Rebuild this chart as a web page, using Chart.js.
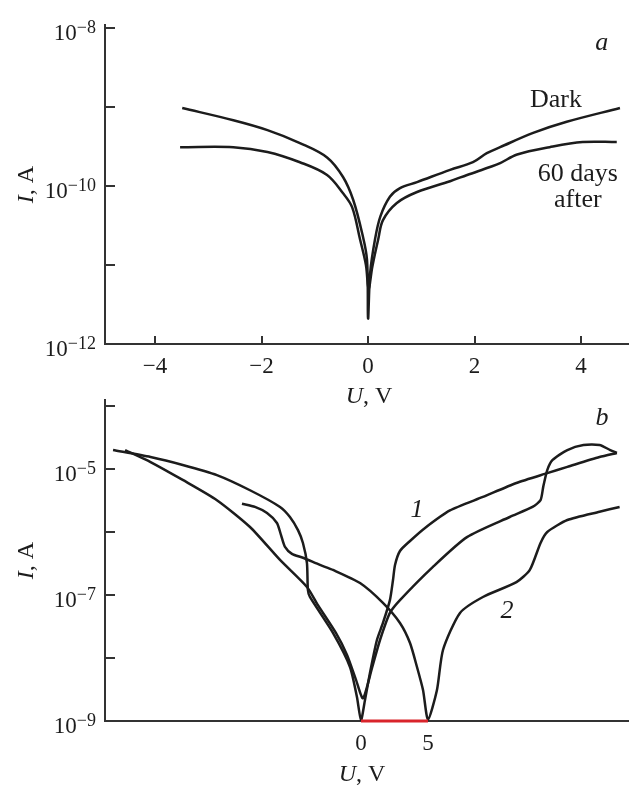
<!DOCTYPE html>
<html>
<head>
<meta charset="UTF-8">
<title>I-U curves</title>
<script src="https://cdn.jsdelivr.net/npm/chart.js"></script>
<style>
  html, body { margin: 0; padding: 0; background: #fff; overflow: hidden; }
  canvas { display: block; position: absolute; left: 0; }
  #chartA { top: 0; }
  #chartB { top: 390px; }
</style>
</head>
<body>
<canvas id="chartA" width="629" height="412"></canvas>
<canvas id="chartB" width="629" height="395"></canvas>
<script>
// ---- panel a: dark current, fresh and after 60 days ----
const darkU = [-3.49, -2.53, -1.89, -1.28, -0.77, -0.47, -0.28, -0.11, -0.02, 0, 0.04, 0.13, 0.23, 0.41, 0.60, 0.92, 1.54, 1.97, 2.23, 2.48, 3.10, 3.73, 4.73];
const darkI = [9.7e-10, 6.8e-10, 5.1e-10, 3.5e-10, 2.3e-10, 1.3e-10, 6.7e-11, 2.5e-11, 1.16e-11, 2.1e-12, 8e-12, 2.1e-11, 4.1e-11, 7.3e-11, 9.4e-11, 1.12e-10, 1.6e-10, 2.0e-10, 2.6e-10, 3.1e-10, 4.7e-10, 6.5e-10, 9.7e-10];
const agedU = [-3.53, -2.53, -1.89, -1.28, -0.77, -0.47, -0.30, -0.15, -0.04, 0.01, 0.08, 0.19, 0.28, 0.54, 0.92, 1.54, 1.86, 2.29, 2.48, 2.80, 3.41, 4.03, 4.67];
const agedI = [3.1e-10, 3.1e-10, 2.7e-10, 2.0e-10, 1.38e-10, 8.1e-11, 5.4e-11, 2.1e-11, 1.0e-11, 5e-12, 9.5e-12, 2.1e-11, 3.7e-11, 6.1e-11, 8.4e-11, 1.15e-10, 1.38e-10, 1.74e-10, 1.95e-10, 2.5e-10, 3.1e-10, 3.6e-10, 3.6e-10];

// ---- panel b: loop 1 (forward + return), loop 2 ----
const loop1FwdU = [-18.5, -15.7, -13.3, -10.75, -8.28, -6.04, -5.30, -4.70, -4.33, -4.03, -3.96, -3.81, -2.09, -0.82, -0.30, 0, 0.30, 0.67, 1.19, 1.64, 2.16, 2.39, 2.54, 2.91, 3.66, 4.78, 6.64, 9.10, 11.6, 13.9, 15.4, 17.8, 19.1];
const loop1FwdI = [2.0e-5, 1.55e-5, 1.16e-5, 8.0e-6, 4.6e-6, 2.5e-6, 1.73e-6, 1.07e-6, 6.7e-7, 3.2e-7, 1.2e-7, 9.3e-8, 2.5e-8, 7.2e-9, 2.4e-9, 1.03e-9, 2.15e-9, 5.8e-9, 1.93e-8, 3.6e-8, 8.3e-8, 1.73e-7, 3.0e-7, 5.0e-7, 7.2e-7, 1.16e-6, 2.2e-6, 3.6e-6, 6.0e-6, 8.6e-6, 1.08e-5, 1.55e-5, 1.8e-5];
const loop1RetU = [19.1, 18.6, 17.8, 16.6, 15.4, 14.3, 13.9, 13.6, 13.4, 12.8, 11.1, 7.91, 5.37, 2.91, 2.16, 1.42, 0.82, 0.15, -0.37, -1.04, -1.87, -3.21, -4.03, -6.04, -8.28, -10.75, -13.3, -15.7, -17.6];
const loop1RetI = [1.8e-5, 2.0e-5, 2.4e-5, 2.4e-5, 2.0e-5, 1.39e-5, 9.6e-6, 5.2e-6, 3.2e-6, 2.5e-6, 1.73e-6, 8.3e-7, 2.8e-7, 8.3e-8, 5.2e-8, 1.93e-8, 6.9e-9, 2.3e-9, 4.5e-9, 1.12e-8, 2.5e-8, 6.9e-8, 1.34e-7, 3.6e-7, 1.2e-6, 3.2e-6, 6.7e-6, 1.29e-5, 2.0e-5];
const loop2U = [-8.88, -7.91, -7.01, -6.27, -5.97, -5.67, -5.15, -4.33, -3.06, -2.09, -0.07, 1.64, 2.91, 3.66, 4.18, 4.63, 5.0, 5.67, 6.12, 7.39, 9.10, 11.6, 12.6, 13.4, 13.9, 15.4, 17.8, 19.3];
const loop2I = [2.8e-6, 2.5e-6, 2.0e-6, 1.39e-6, 9.0e-7, 5.8e-7, 4.5e-7, 3.9e-7, 3.0e-7, 2.5e-7, 1.55e-7, 7.5e-8, 3.6e-8, 1.73e-8, 7.2e-9, 3.1e-9, 1.05e-9, 3.1e-9, 1.34e-8, 5.2e-8, 9.3e-8, 1.6e-7, 2.5e-7, 6.7e-7, 1.0e-6, 1.55e-6, 2.1e-6, 2.5e-6];
const markU = [0, 5];
const markI = [1e-9, 1e-9];

// ticks
const aTickI = [1e-8, 1e-9, 1e-10, 1e-11];
const aLabelExp = [-8, -10, -12];
const aTickU = [-4, -2, 0, 2, 4];
const bTickI = [1e-4, 1e-5, 1e-6, 1e-7, 1e-8];
const bLabelExp = [-5, -7, -9];
const bTickU = [0, 5];

// text notes (data coordinates)
const aNotes = [
  { text: 'a', u: 4.39, i: 5.3e-9, italic: true },
  { text: 'Dark', u: 3.53, i: 1.0e-9 },
  { text: '60 days', u: 3.94, i: 1.16e-10 },
  { text: 'after', u: 3.94, i: 5.4e-11 }
];
const bNotes = [
  { text: 'b', u: 17.99, i: 5.0e-5, italic: true },
  { text: '1', u: 4.18, i: 1.73e-6, italic: true },
  { text: '2', u: 10.9, i: 4.3e-8, italic: true }
];

const SERIF = "'Liberation Serif', 'Times New Roman', serif";
const INK = '#1c1c1c';
const AXIS = '#333';

function pts(us, is) {
  return us.map((u, k) => ({ x: u, y: is[k] }));
}

function curve(us, is, t) {
  return { data: pts(us, is), borderColor: INK, borderWidth: 2.5, tension: t };
}

function mixedText(ctx, parts, cx, base) {
  // parts: [[text, italic], ...] drawn centered at cx
  let total = 0;
  parts.forEach(p => { ctx.font = (p[1] ? 'italic ' : '') + '24px ' + SERIF; total += ctx.measureText(p[0]).width; });
  let x = cx - total / 2;
  ctx.textAlign = 'left';
  parts.forEach(p => {
    ctx.font = (p[1] ? 'italic ' : '') + '24px ' + SERIF;
    ctx.fillText(p[0], x, base);
    x += ctx.measureText(p[0]).width;
  });
}

const decor = {
  id: 'decor',
  afterDraw(chart, args, o) {
    const ctx = chart.ctx;
    const xs = chart.scales.x, ys = chart.scales.y;
    const area = chart.chartArea;
    ctx.save();
    ctx.strokeStyle = AXIS;
    ctx.fillStyle = INK;
    ctx.lineWidth = 2;
    // inward tick marks
    o.yTicks.forEach(v => {
      const py = Math.round(ys.getPixelForValue(v));
      ctx.beginPath(); ctx.moveTo(area.left, py); ctx.lineTo(area.left + 10, py); ctx.stroke();
    });
    if (o.xMarks) {
      o.xTicks.forEach(v => {
        const px = Math.round(xs.getPixelForValue(v));
        ctx.beginPath(); ctx.moveTo(px, area.bottom); ctx.lineTo(px, area.bottom - 8); ctx.stroke();
      });
    }
    // y labels 10^n
    ctx.textBaseline = 'alphabetic';
    o.yExps.forEach(e => {
      const py = ys.getPixelForValue(Math.pow(10, e));
      const sup = '\u2212' + Math.abs(e);
      ctx.font = '18px ' + SERIF;
      const ws = ctx.measureText(sup).width;
      ctx.textAlign = 'left';
      ctx.fillText(sup, 96 - ws, py + 5);
      ctx.font = '23px ' + SERIF;
      ctx.textAlign = 'right';
      ctx.fillText('10', 96 - ws, py + 12);
    });
    // x labels
    ctx.font = '23px ' + SERIF;
    ctx.textAlign = 'center';
    o.xTicks.forEach(v => {
      const txt = v < 0 ? '\u2212' + Math.abs(v) : String(v);
      ctx.fillText(txt, xs.getPixelForValue(v), area.bottom + 29);
    });
    // axis titles
    mixedText(ctx, [['U', true], [', V', false]], xs.getPixelForValue(0) + 1, area.bottom + o.titleGap);
    ctx.save();
    ctx.translate(33, (area.top + area.bottom) / 2);
    ctx.rotate(-Math.PI / 2);
    mixedText(ctx, [['I', true], [', A', false]], 0, 0);
    ctx.restore();
    // notes
    ctx.textAlign = 'center';
    o.notes.forEach(n => {
      ctx.font = (n.italic ? 'italic ' : '') + '26px ' + SERIF;
      ctx.fillText(n.text, xs.getPixelForValue(n.u), ys.getPixelForValue(n.i));
    });
    ctx.restore();
  }
};

function makeChart(id, datasets, xr, yr, pad, xHeight, deco) {
  return new Chart(document.getElementById(id), {
    type: 'scatter',
    data: { datasets: datasets },
    options: {
      responsive: false,
      animation: false,
      events: [],
      showLine: true,
      elements: { point: { radius: 0 } },
      layout: { padding: { top: pad, left: 0, right: 0, bottom: 0 } },
      scales: {
        x: {
          type: 'linear', min: xr[0], max: xr[1],
          grid: { display: false, drawTicks: false },
          border: { display: true, color: AXIS, width: 2 },
          ticks: { display: false },
          afterFit: s => { s.height = xHeight; }
        },
        y: {
          type: 'logarithmic', min: yr[0], max: yr[1],
          grid: { display: false, drawTicks: false },
          border: { display: true, color: AXIS, width: 2 },
          ticks: { display: false },
          afterFit: s => { s.width = 105; }
        }
      },
      plugins: {
        legend: { display: false },
        tooltip: { enabled: false },
        decor: deco
      }
    },
    plugins: [decor]
  });
}

// top canvas is 412 tall so the U, V title fits; chart area still ends at y = 344
makeChart('chartA',
  [curve(darkU, darkI, 0.35), curve(agedU, agedI, 0.35)],
  [-4.94, 4.90], [1e-12, 1.0914e-8], 25, 68,
  { yTicks: aTickI, yExps: aLabelExp, xTicks: aTickU, xMarks: true, titleGap: 59, notes: aNotes });

makeChart('chartB',
  [
    { data: pts(markU, markI), borderColor: '#d9242b', borderWidth: 3, tension: 0, clip: false },
    curve(loop1FwdU, loop1FwdI, 0.22),
    curve(loop1RetU, loop1RetI, 0.22),
    curve(loop2U, loop2I, 0.22)
  ],
  [-19.1, 20.0], [1e-9, 1.245e-4], 10, 64,
  { yTicks: bTickI, yExps: bLabelExp, xTicks: bTickU, xMarks: false, titleGap: 60, notes: bNotes });
</script>
</body>
</html>
